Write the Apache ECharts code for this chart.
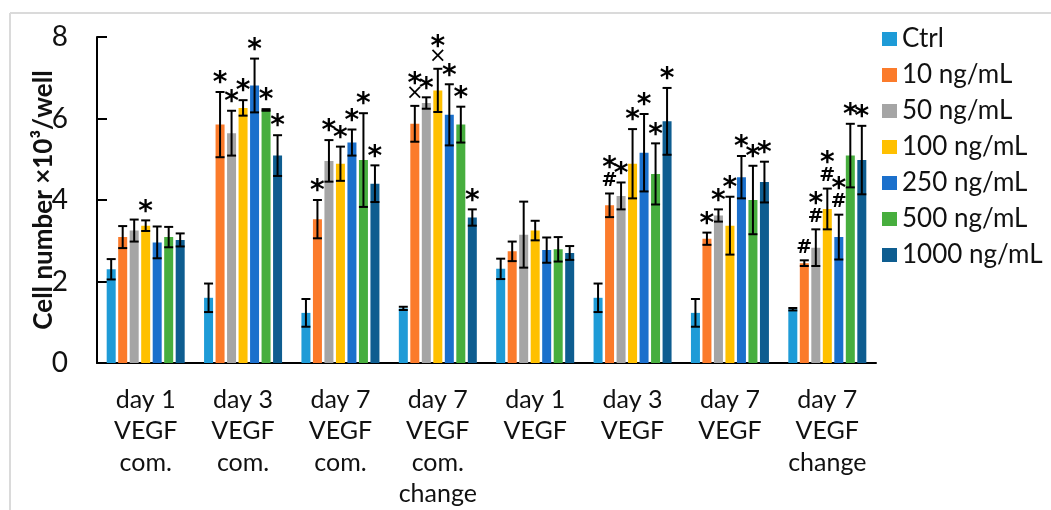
<!DOCTYPE html>
<html>
<head>
<meta charset="utf-8">
<script src="https://cdn.jsdelivr.net/npm/echarts@6/dist/echarts.min.js"></script>
<style>
  html, body { margin: 0; padding: 0; background: #fff; }
  #chart { width: 1051px; height: 510px; }
</style>
</head>
<body>
<div id="chart"></div>
<script>
// Group labels along the x axis
const categories = [
  'day 1\nVEGF\ncom.', 'day 3\nVEGF\ncom.', 'day 7\nVEGF\ncom.', 'day 7\nVEGF\ncom.\nchange',
  'day 1\nVEGF', 'day 3\nVEGF', 'day 7\nVEGF', 'day 7\nVEGF\nchange'
];
const seriesNames = ['Ctrl', '10 ng/mL', '50 ng/mL', '100 ng/mL', '250 ng/mL', '500 ng/mL', '1000 ng/mL'];
const yTicks = [0, 2, 4, 6, 8];

// Mean cell number (x10^3 / well) per group
const ctrl   = [2.30, 1.60, 1.23, 1.34, 2.31, 1.60, 1.23, 1.32];
const c10    = [3.09, 5.85, 3.53, 5.87, 2.74, 3.87, 3.05, 2.45];
const c50    = [3.25, 5.64, 4.96, 6.38, 3.15, 4.10, 3.62, 2.83];
const c100   = [3.37, 6.26, 4.89, 6.69, 3.25, 4.89, 3.37, 3.78];
const c250   = [2.96, 6.81, 5.41, 6.09, 2.77, 5.16, 4.56, 3.09];
const c500   = [3.09, 6.21, 4.98, 5.85, 2.79, 4.64, 4.00, 5.09];
const c1000  = [3.02, 5.09, 4.40, 3.57, 2.70, 5.93, 4.44, 4.98];

// Standard deviations
const ctrlErr  = [0.25, 0.35, 0.34, 0.04, 0.25, 0.35, 0.34, 0.03];
const c10Err   = [0.27, 0.80, 0.47, 0.44, 0.24, 0.29, 0.15, 0.07];
const c50Err   = [0.27, 0.55, 0.51, 0.14, 0.81, 0.33, 0.15, 0.45];
const c100Err  = [0.13, 0.19, 0.42, 0.53, 0.24, 0.85, 0.71, 0.50];
const c250Err  = [0.39, 0.66, 0.32, 0.75, 0.31, 0.95, 0.52, 0.55];
const c500Err  = [0.25, 0.02, 1.15, 0.44, 0.30, 0.75, 0.84, 0.78];
const c1000Err = [0.16, 0.50, 0.45, 0.20, 0.17, 0.82, 0.50, 0.84];

// Significance marks above each bar (top line first)
const ctrlMarks  = ['', '', '', '', '', '', '', ''];
const c10Marks   = ['', '*', '*', '*\n×', '', '*\n#', '*', '#'];
const c50Marks   = ['', '*', '*', '*', '', '*', '*', '*\n#'];
const c100Marks  = ['*', '*', '*', '*\n×', '', '*', '*', '*\n#'];
const c250Marks  = ['', '*', '*', '*', '', '*', '*', '*\n#'];
const c500Marks  = ['', '*', '*', '*', '', '*', '*', '*'];
const c1000Marks = ['', '*', '*', '*', '', '*', '*', '*'];

const colors = ['#1E9BD7', '#FB7B2B', '#A5A5A5', '#FFC000', '#1B70CC', '#47AE3E', '#0E5D90'];

const values = [ctrl, c10, c50, c100, c250, c500, c1000];
const errors = [ctrlErr, c10Err, c50Err, c100Err, c250Err, c500Err, c1000Err];
const marks  = [ctrlMarks, c10Marks, c50Marks, c100Marks, c250Marks, c500Marks, c1000Marks];

const FONT = 'Lato';
const BAR_W = 9;
const BAR_GAP = 2.5;
const PITCH = BAR_W + BAR_GAP;

const barSeries = seriesNames.map((name, s) => ({
  name: name,
  type: 'bar',
  data: values[s],
  barWidth: BAR_W,
  barGap: (BAR_GAP / BAR_W * 100) + '%',
  itemStyle: { color: colors[s] },
  z: 2
}));

// Error bars and significance marks, placed at each bar's x offset
const errSeries = seriesNames.map((name, s) => ({
  type: 'custom',
  silent: true,
  z: 5,
  data: values[s].map((v, i) => [i, v, errors[s][i]]),
  renderItem: function (params, api) {
    const i = api.value(0), v = api.value(1), e = api.value(2);
    const cx = api.coord([i, v])[0] + (s - 3) * PITCH;
    const yTop = api.coord([i, v + e])[1];
    const yBot = api.coord([i, v - e])[1];
    const half = 4.5;
    const st = { stroke: '#000', lineWidth: 2 };
    const children = [
      { type: 'line', shape: { x1: cx, y1: yTop, x2: cx, y2: yBot }, style: st },
      { type: 'line', shape: { x1: cx - half, y1: yTop, x2: cx + half, y2: yTop }, style: st },
      { type: 'line', shape: { x1: cx - half, y1: yBot, x2: cx + half, y2: yBot }, style: st }
    ];
    const lines = marks[s][params.dataIndex] ? marks[s][params.dataIndex].split('\n') : [];
    let y = yTop - 4;
    for (let k = lines.length - 1; k >= 0; k--) {
      const t = lines[k];
      if (t === '*') {
        children.push({ type: 'text', style: { text: '*', x: cx, y: y + 10, align: 'center', verticalAlign: 'bottom', font: 'bold 28px "DejaVu Sans"', fill: '#000' } });
        y -= 19;
      } else if (t === '#') {
        children.push({ type: 'text', style: { text: '#', x: cx, y: y + 1, align: 'center', verticalAlign: 'bottom', font: 'bold 19px "DejaVu Sans"', fill: '#000' } });
        y -= 17;
      } else {
        children.push({ type: 'text', style: { text: '×', x: cx, y: y + 2, align: 'center', verticalAlign: 'bottom', font: '21px "DejaVu Sans"', fill: '#000' } });
        y -= 13;
      }
    }
    return { type: 'group', children: children };
  }
}));

const chart = echarts.init(document.getElementById('chart'), null, { renderer: 'canvas' });
chart.setOption({
  animation: false,
  backgroundColor: '#fff',
  grid: { left: 97, right: 175, top: 37, bottom: 142, containLabel: false },
  legend: {
    data: seriesNames,
    orient: 'vertical',
    left: 877,
    top: 20,
    icon: 'rect',
    itemWidth: 15,
    itemHeight: 14,
    itemGap: 8,
    textStyle: { fontFamily: FONT, fontSize: 26, color: '#111', lineHeight: 28, padding: [0, 0, 0, 0] }
  },
  xAxis: {
    type: 'category',
    data: categories,
    axisLine: { lineStyle: { color: '#000', width: 2 } },
    axisTick: { show: false },
    axisLabel: { fontFamily: FONT, fontSize: 25, color: '#111', lineHeight: 31.5, margin: 21, interval: 0 }
  },
  yAxis: {
    type: 'value',
    min: 0, max: 8, interval: 2,
    name: 'Cell number ×10³/well',
    nameLocation: 'middle',
    nameGap: 40,
    nameMoveOverlap: false,
    nameTextStyle: { fontFamily: FONT, fontSize: 26, fontWeight: 'bold', color: '#111' },
    axisLine: { show: true, lineStyle: { color: '#000', width: 2 } },
    axisTick: { show: true, inside: true, length: 10, lineStyle: { color: '#000', width: 2 } },
    splitLine: { show: false },
    axisLabel: {
      fontFamily: FONT, fontSize: 28, color: '#111', margin: 29,
      formatter: v => yTicks.includes(v) ? String(v) : ''
    }
  },
  graphic: [
    { type: 'line', shape: { x1: 10, y1: 13, x2: 1051, y2: 13 }, style: { stroke: '#DADADA', lineWidth: 2 } },
    { type: 'line', shape: { x1: 10, y1: 13, x2: 10, y2: 510 }, style: { stroke: '#DADADA', lineWidth: 2 } }
  ],
  series: barSeries.concat(errSeries)
});
</script>
</body>
</html>
